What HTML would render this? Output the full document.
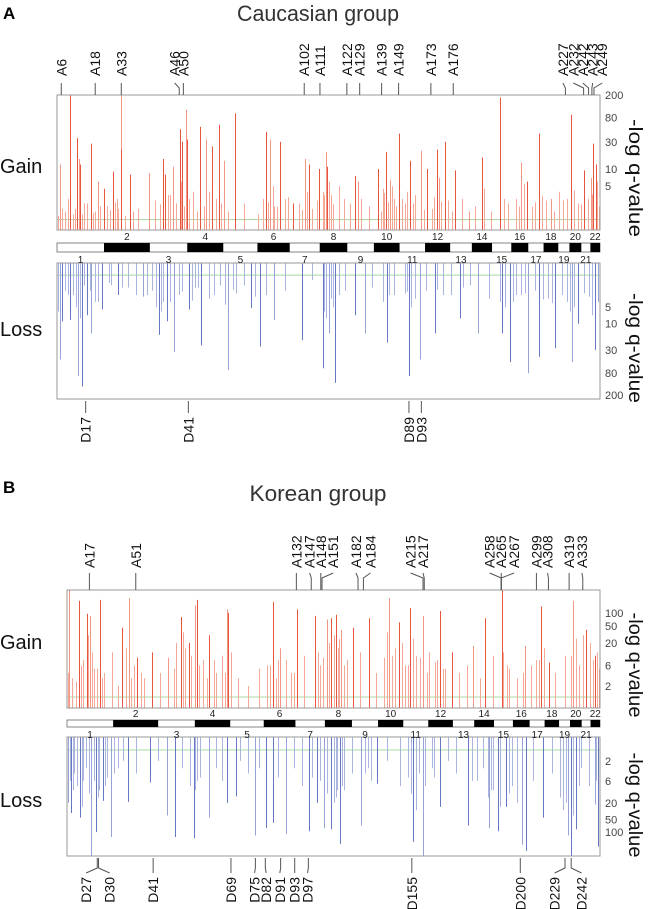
<!DOCTYPE html>
<html><head><meta charset="utf-8"><style>
html,body{margin:0;padding:0;background:#fff;}
svg{display:block;font-family:"Liberation Sans",Arial,sans-serif;}
</style></head><body>
<svg id="fig" width="649" height="909" viewBox="0 0 649 909" xmlns="http://www.w3.org/2000/svg">
<text x="3" y="19" font-size="17" font-weight="bold">A</text>
<text x="318" y="21" font-size="22" text-anchor="middle" textLength="162" lengthAdjust="spacingAndGlyphs" fill="#333">Caucasian group</text>
<text x="3" y="493" font-size="17" font-weight="bold">B</text>
<text x="318" y="501" font-size="22" text-anchor="middle" textLength="137" lengthAdjust="spacingAndGlyphs" fill="#333">Korean group</text>
<g id="layer"></g>
</svg>
<script>
// chromosome lengths (Mb)
const chrLengths = [249,243,198,191,181,171,159,146,141,136,135,133,115,107,102,90,81,78,59,63,48,51];
// Caucasian gain: positions (genome permille) and -log q values
const gainA_pos = [5,24,37,41,43,62,75,86,103,117,118,135,170,195,199,213,226,231,237,240,264,275,285,298,307,328,385,392,411,434,457,464,483,496,497,549,554,592,606,613,630,651,671,681,699,703,714,733,758,783,815,855,866,888,909,947,971,983,988,992];
const gainA_val = [12,200,35,15,12,28,6,4.5,9,200,22,8,8.5,15,8,11,50,30,110,33,55,33,25,60,14,95,45,33,30,2.5,15,12,10,20,11,7.5,6,10,20,6.5,42,14,21,10,22,7,30,9.5,1.8,16,180,13,6,42,3,90,9.5,7,28,12];
const gainA_minorPos = [10,30,50,70,92,110,125,150,180,205,220,250,270,292,315,345,370,400,420,445,470,490,505,520,540,560,575,600,620,640,660,690,720,745,770,800,830,845,875,900,925,940,960,978,998,2,14,20,33,46,55,66,80,97,107,113,140,190,208,228,234,244,258,280,302,380,388,397,405,425,452,460,478,492,501,508,528,597,603,610,617,625,635,645,655,676,695,708,728,786,823,850,860,880,893,915,932,952,965,986,994];
const gainA_minorVal = [2,1.6,2.5,1.8,2.2,3,1.5,2,2.8,3.5,2.5,4,2.2,3,1.8,2.5,1.6,2.2,3,2.5,2,4,3.5,5,2.5,3,2.2,4.5,3,2.5,3.5,2,2.8,3,2.2,1.8,2.5,3,2.2,2.8,4,3,2.5,3,2.2,1.5,1.8,3,2,1.6,2.5,1.7,2.2,1.9,2.6,2,1.8,2.4,3.5,6,2.2,3,1.8,4,2.5,3,2.6,5,2.2,3.2,1.9,4,2.8,3.5,6,2.4,3,1.8,3.8,2.6,5,2.2,3,4,2.5,1.9,3.2,2.7,1.8,4.5,3,2.2,5.5,2.6,3.4,1.8,2.8,4.2,2.4,3.6,6];
// Caucasian loss
const lossA_pos = [5,10,24,39,46,56,63,82,113,159,188,202,216,243,266,315,357,374,399,452,489,500,512,548,567,607,649,668,697,743,775,819,835,868,888,918,949,960,990,996];
const lossA_val = [45,9,8.5,90,140,7,15,5.5,3,3.2,16,9,33,5.5,25,70,5.2,26,8.5,20,65,15,120,7,15,22,90,45,15,8,15,15,50,80,40,28,50,10,30,4];
const lossA_minorPos = [15,30,50,70,95,130,145,175,195,225,255,280,300,330,345,385,420,470,505,530,580,620,640,680,710,760,795,840,855,880,905,930,940,970,980,2,20,35,43,60,75,100,120,165,183,192,208,230,248,260,290,310,325,365,492,496,508,520,600,612,645,652,660,700,725,748,816,825,845,862,895,912,945,953,985];
const lossA_minorVal = [2.5,3,2,4,1.8,2.2,3,2.5,4,3,2.2,3.5,2,2.8,2,3,2.5,1.6,3.5,2.5,2.2,3,2.8,2.5,3,2,3.5,4,3,2.5,3.5,3,4,2.8,3.2,6,3,5,8,2.5,4,2,2.2,3,5,6,4,2.6,3.8,2.2,3,4.5,2.4,3.2,6,8,5,3,4,3,2.6,5,3.5,2.4,3,2.2,4,5,3,2.8,3.6,4.2,6,5,7];
// Korean gain
const gainB_pos = [4,23,37,43,61,103,117,131,160,189,214,228,240,244,267,300,303,386,400,431,465,487,496,504,514,537,566,605,623,644,668,700,722,761,784,816,860,889,905,950,973,990,998];
const gainB_val = [330,190,95,85,200,45,220,9,12,9,80,20,150,200,30,120,100,180,15,120,85,70,75,90,40,45,75,220,60,130,85,110,12,17,75,330,17,140,7,190,40,10,5];
const gainB_minorPos = [10,30,50,70,85,95,125,145,175,200,222,255,280,290,320,340,360,375,395,420,445,475,510,525,550,580,595,615,635,655,680,690,710,735,750,775,800,830,845,870,880,915,935,960,982,2,16,27,40,47,57,65,110,120,138,205,218,233,248,262,275,296,308,380,392,410,425,470,480,492,500,508,520,600,610,628,640,650,662,675,695,705,818,825,855,885,895,945,955,968,986,994];
const gainB_minorVal = [3,8,5,4,12,2,6,3,4,5,15,8,4,10,3,2,5,6,8,4,10,6,25,8,12,4,9,15,6,10,12,7,5,4,6,3,10,5,3,6,8,4,10,6,20,4,2.5,6,30,12,5,3,15,3,4,20,35,10,6,3,8,4,12,6,3,8,4,12,9,20,30,15,6,35,10,20,6,25,9,4,8,5,12,6,4,8,15,10,25,30,8,12];
// Korean loss
const lossB_pos = [2,8,24,45,54,67,82,115,156,187,202,238,267,300,317,352,373,387,411,454,469,482,496,512,551,582,650,668,699,753,792,808,823,854,862,893,940,946,955,990,997];
const lossB_val = [20,35,45,360,100,18,130,19,6.5,40,130,140,45,20,14,120,80,60,110,95,20,80,85,190,70,7,170,360,25,70,80,95,25,200,280,45,120,360,85,22,220];
const lossB_minorPos = [14,30,36,60,75,95,105,130,170,215,230,250,280,290,325,340,360,395,425,440,475,505,520,535,565,600,625,640,660,685,715,730,770,780,800,835,845,875,910,925,965,980,5,12,19,28,41,50,58,71,88,240,244,460,488,500,506,516,560,570,645,655,672,688,760,790,795,812,830,930,936,950,960,993];
const lossB_minorVal = [4,6,3,10,5,3,2,4,2,3,8,5,3,6,2,4,3,5,3,8,6,15,10,4,3,2,8,5,4,3,2,4,6,3,10,8,20,6,4,15,3,8,6,10,8,25,12,6,15,8,4,10,6,5,12,20,10,8,4,6,12,30,8,5,6,15,10,25,12,30,20,40,8,6];

const NS = "http://www.w3.org/2000/svg";
const layer = document.getElementById('layer');
function el(tag, attrs, parent){
  const e = document.createElementNS(NS, tag);
  for (const k in attrs) e.setAttribute(k, attrs[k]);
  (parent||layer).appendChild(e);
  return e;
}
function logScale(dmin, dmax, r0, r1){
  const a = Math.log10(dmin), b = Math.log10(dmax);
  return v => r0 + (Math.log10(Math.max(v,dmin)) - a)/(b-a)*(r1-r0);
}
function linScale(x0, x1){ return pm => x0 + pm/1000*(x1-x0); }

function panel(cfg){
  const x = linScale(cfg.x0, cfg.x1);
  const gy = logScale(cfg.gDom[0], cfg.gDom[1], cfg.gBot, cfg.gBotTop);
  const ly = logScale(cfg.lDom[0], cfg.lDom[1], cfg.lTop, cfg.lTopBot);
  const g = el('g', {});
  
  
  const gl = el('line', {x1:cfg.x0, x2:cfg.x1, y1:gy(cfg.thr), y2:gy(cfg.thr), stroke:'#a8d8a0', 'stroke-width':1}, g);
  
  
  const ll = el('line', {x1:cfg.x0, x2:cfg.x1, y1:ly(cfg.thr), y2:ly(cfg.thr), stroke:'#a8d8a0', 'stroke-width':1}, g);
  
  
  function bars(pos, val, isGain, minor){
    pos.forEach((p,i)=>{
      const xx = Math.round(x(p))+0.5;
      const b = isGain ? el('line', {x1:xx, x2:xx, y1:cfg.gBot, y2:gy(val[i]), stroke: minor? '#f4a898' : (i%3==0?'#f49684':'#e8553e'), 'stroke-width':1}, g)
                       : el('line', {x1:xx, x2:xx, y1:cfg.lTop, y2:ly(val[i]), stroke: minor? '#a9b5e0' : (i%3==0?'#95a3d8':'#6677c4'), 'stroke-width':1}, g);
      
      
    });
  }
  bars(cfg.gMinorPos, cfg.gMinorVal, true, true);
  bars(cfg.gPos, cfg.gVal, true, false);
  bars(cfg.lMinorPos, cfg.lMinorVal, false, true);
  bars(cfg.lPos, cfg.lVal, false, false);
  const gb = el('rect', {x:cfg.x0, y:cfg.gTop, width:cfg.x1-cfg.x0, height:cfg.gBot-cfg.gTop, fill:'none', stroke:'#999', 'stroke-width':1});
  
  
  const lb = el('rect', {x:cfg.x0, y:cfg.lTop, width:cfg.x1-cfg.x0, height:cfg.lBot-cfg.lTop, fill:'none', stroke:'#999', 'stroke-width':1});
  
  
  cfg.gTicks.forEach(t=>{
    const tl = el('text', {x:cfg.x1+5, y:gy(t)+4, 'font-size':11, fill:'#444'});
    tl.textContent = t;
    
    
  });
  cfg.lTicks.forEach(t=>{
    const tl = el('text', {x:cfg.x1+5, y:ly(t)+4, 'font-size':11, fill:'#444'});
    tl.textContent = t;
    
    
  });
  const total = chrLengths.reduce((a,b)=>a+b,0);
  let acc = 0;
  const cb = el('rect', {x:cfg.x0, y:cfg.cTop, width:cfg.x1-cfg.x0, height:cfg.cH, fill:'#fff', stroke:'#666', 'stroke-width':0.8});
  
  
  chrLengths.forEach((L,i)=>{
    const xs = x(acc/total*1000), xe = x((acc+L)/total*1000);
    const n = i+1;
    if (n%2==0){
      const r = el('rect', {x:xs, y:cfg.cTop, width:xe-xs, height:cfg.cH, fill:'#000'});
      
      
    }
    const t = el('text', {x:(xs+xe)/2, y: n%2==0 ? cfg.cTop-3 : cfg.cTop+cfg.cH+11, 'font-size':10, 'text-anchor':'middle', fill:'#222'});
    t.textContent = n;
    
    
    acc += L;
  });
  const gt = el('text', {x:0, y:cfg.gainLabelY, 'font-size':20, fill:'#111'});
  gt.textContent = 'Gain';
  
  
  const lt = el('text', {x:0, y:cfg.lossLabelY, 'font-size':20, fill:'#111'});
  lt.textContent = 'Loss';
  
  
  [[cfg.gAxisC, cfg.gAxisL],[cfg.lAxisC, cfg.lAxisL]].forEach(([c,len],k)=>{
    const a = el('text', {x:0, y:0, 'font-size':19, 'text-anchor':'middle', fill:'#111', textLength:len, lengthAdjust:'spacingAndGlyphs', transform:`translate(629,${c}) rotate(90)`});
    a.textContent = '-log q-value';
    
    
  });
  cfg.topLabels.forEach(([name, lx, tx])=>{
    const p = el('polyline', {points:`${tx},${cfg.topLineY0} ${lx},${cfg.topLineY0+5} ${lx},${cfg.gTop}`, fill:'none', stroke:'#555', 'stroke-width':1});
    
    
    const t = el('text', {x:0, y:0, 'font-size':14, fill:'#111', transform:`translate(${tx+5},${cfg.topTextY}) rotate(-90)`});
    t.textContent = name;
    
    
  });
  cfg.botLabels.forEach(([name, lx, tx])=>{
    const p = el('polyline', {points:`${lx},${cfg.lBot+2} ${lx},${cfg.botLineY1-5} ${tx},${cfg.botLineY1}`, fill:'none', stroke:'#555', 'stroke-width':1});
    
    
    const t = el('text', {x:0, y:0, 'font-size':14, fill:'#111', 'text-anchor':'end', transform:`translate(${tx+5},${cfg.botTextY}) rotate(-90)`});
    t.textContent = name;
    
    
  });
}
const z = v => v/2.416;
panel({
  id:'caucasian', x0:57, x1:600,
  gTop:95, gBot:230, gBotTop:95, gDom:[0.85,200],
  lTop:263, lBot:399, lTopBot:395, lDom:[0.78,200],
  thr:1.3, cTop:243, cH:9,
  gPos:gainA_pos, gVal:gainA_val, gMinorPos:gainA_minorPos, gMinorVal:gainA_minorVal,
  lPos:lossA_pos, lVal:lossA_val, lMinorPos:lossA_minorPos, lMinorVal:lossA_minorVal,
  gTicks:[200,80,30,10,5], lTicks:[5,10,30,80,200],
  gainLabelY:173, lossLabelY:336, gAxisC:178, gAxisL:118, lAxisC:348, lAxisL:110,
  topLineY0:83, topTextY:76, botLineY1:413, botTextY:417,
  topLabels:[['A6',z(148),z(148)],['A18',z(230),z(230)],['A33',z(293),z(293)],['A46',z(433),z(422)],['A50',z(443),z(443)],
    ['A102',z(735),z(735)],['A111',z(773),z(773)],['A122',z(838),z(838)],['A129',z(869),z(869)],['A139',z(922),z(922)],
    ['A149',z(963),z(963)],['A173',z(1041),z(1041)],['A176',z(1095),z(1095)],['A227',z(1366),z(1360)],['A232',z(1410),z(1385)],
    ['A242',z(1422),z(1408)],['A243',z(1430),z(1432)],['A249',z(1435),z(1455)]],
  botLabels:[['D17',z(207),z(207)],['D41',z(455),z(455)],['D89',z(988),z(988)],['D93',z(1018),z(1018)]]
});
panel({
  id:'korean', x0:67, x1:600,
  gTop:590, gBot:708, gBotTop:590, gDom:[0.61,340],
  lTop:737, lBot:856, lTopBot:856, lDom:[0.54,370],
  thr:1.1, cTop:720, cH:7,
  gPos:gainB_pos, gVal:gainB_val, gMinorPos:gainB_minorPos, gMinorVal:gainB_minorVal,
  lPos:lossB_pos, lVal:lossB_val, lMinorPos:lossB_minorPos, lMinorVal:lossB_minorVal,
  gTicks:[100,50,20,6,2], lTicks:[2,6,20,50,100],
  gainLabelY:649, lossLabelY:807, gAxisC:665, gAxisL:105, lAxisC:805, lAxisL:105,
  topLineY0:573, topTextY:568, botLineY1:873, botTextY:877,
  topLabels:[['A17',z(216),z(216)],['A51',z(328),z(328)],['A132',z(716),z(716)],['A147',z(752),z(748)],['A148',z(775),z(775)],
    ['A151',z(778),z(805)],['A182',z(865),z(860)],['A184',z(878),z(895)],['A215',z(1022),z(992)],['A217',z(1025),z(1022)],
    ['A258',z(1211),z(1183)],['A265',z(1211),z(1211)],['A267',z(1211),z(1242)],['A299',z(1296),z(1296)],['A308',z(1325),z(1323)],
    ['A319',z(1375),z(1375)],['A333',z(1408),z(1406)]],
  botLabels:[['D27',z(235),z(208)],['D30',z(238),z(265)],['D41',z(370),z(370)],['D69',z(558),z(558)],['D75',z(617),z(615)],
    ['D82',z(641),z(643)],['D91',z(678),z(676)],['D93',z(712),z(712)],['D97',z(745),z(743)],['D155',z(995),z(995)],
    ['D200',z(1257),z(1257)],['D229',z(1365),z(1340)],['D242',z(1380),z(1405)]]
});
</script>
</body></html>
